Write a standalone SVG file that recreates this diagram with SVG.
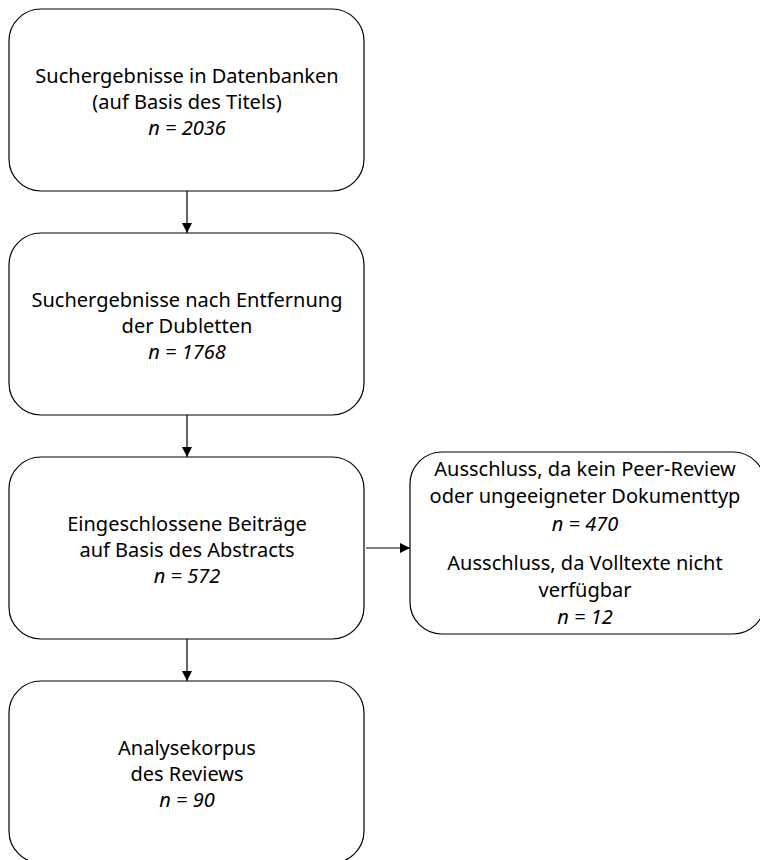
<svg xmlns="http://www.w3.org/2000/svg" width="760" height="860" viewBox="0 0 760 860">
<style>
.box{fill:#fff;stroke:#000;stroke-width:1.2}
.t{font-family:"Noto Sans","Liberation Sans",sans-serif;font-size:20px;fill:#000;text-anchor:middle}
.i{font-style:italic}
.c{stroke:#000;stroke-width:1.2;fill:none}
</style>
<defs>
<marker id="ah" viewBox="0 0 10 10" refX="10" refY="5" markerWidth="10" markerHeight="10" markerUnits="userSpaceOnUse" orient="auto">
<path d="M0,0 L10,5 L0,10 z" fill="#000"/>
</marker>
</defs>
<rect width="760" height="860" fill="#fff"/>
<g id="connectors">
<line class="c" x1="187" y1="191" x2="187" y2="233" marker-end="url(#ah)"/>
<line class="c" x1="187" y1="415" x2="187" y2="457" marker-end="url(#ah)"/>
<line class="c" x1="187" y1="639" x2="187" y2="681" marker-end="url(#ah)"/>
<line class="c" x1="366" y1="548" x2="410" y2="548" marker-end="url(#ah)"/>
</g>
<g id="n1">
<rect class="box" x="9" y="9" width="355" height="182" rx="32"/>
<text class="t" x="187" y="83">Suchergebnisse in Datenbanken</text>
<text class="t" x="187" y="109">(auf Basis des Titels)</text>
<text class="t i" x="187" y="135">n = 2036</text>
</g>
<g id="n2">
<rect class="box" x="9" y="233" width="355" height="182" rx="32"/>
<text class="t" x="187" y="307">Suchergebnisse nach Entfernung</text>
<text class="t" x="187" y="333">der Dubletten</text>
<text class="t i" x="187" y="359">n = 1768</text>
</g>
<g id="n3">
<rect class="box" x="9" y="457" width="355" height="182" rx="32"/>
<text class="t" x="187" y="531">Eingeschlossene Beiträge</text>
<text class="t" x="187" y="557">auf Basis des Abstracts</text>
<text class="t i" x="187" y="583">n = 572</text>
</g>
<g id="n4">
<rect class="box" x="9" y="681" width="355" height="182" rx="32"/>
<text class="t" x="187" y="755">Analysekorpus</text>
<text class="t" x="187" y="781">des Reviews</text>
<text class="t i" x="187" y="807">n = 90</text>
</g>
<g id="n5">
<rect class="box" x="410" y="452" width="355" height="182" rx="32"/>
<text class="t" x="585" y="476">Ausschluss, da kein Peer-Review</text>
<text class="t" x="585" y="503">oder ungeeigneter Dokumenttyp</text>
<text class="t i" x="585" y="531">n = 470</text>
<text class="t" x="585" y="570">Ausschluss, da Volltexte nicht</text>
<text class="t" x="585" y="597">verfügbar</text>
<text class="t i" x="585" y="624">n = 12</text>
</g>
</svg>
